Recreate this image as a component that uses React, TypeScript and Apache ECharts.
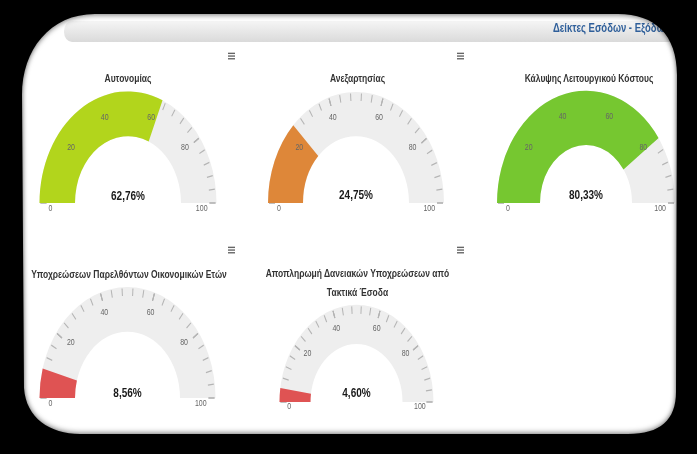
import React, { useEffect, useRef } from "react";
import * as echarts from "echarts";

// ---------- data ----------
const gaugeTitles = [
  "Αυτονομίας",
  "Ανεξαρτησίας",
  "Κάλυψης Λειτουργικού Κόστους",
  "Υποχρεώσεων Παρελθόντων Οικονομικών Ετών",
  "Αποπληρωμή Δανειακών Υποχρεώσεων από\nΤακτικά Έσοδα",
];
const gaugeValues = [62.76, 24.75, 80.33, 8.56, 4.6];
const axisMin = 0;
const axisMax = 100;
const axisSplits = 5; // labels 0,20,...,100
const minorPerSplit = 5; // ticks every 4
const headerTitle = "Δείκτες Εσόδων - Εξόδων";
const colorStops: [number, string][] = [
  [0.1, "#DF5353"],
  [0.5, "#DDDF0D"],
  [0.9, "#55BF3B"],
];

// ---------- layout ----------
const W = 697;
const HPX = 454;
const H = 360;
const SY = HPX / H;
const u = (y: number) => y / SY;
const FONT = "'Liberation Sans', Arial, sans-serif";

const layouts = [
  { cx: 128, by: 203, r: 88.5, w: 35.5, tx: 0, tyS: 78, dyS: 196 },
  { cx: 356, by: 203, r: 88, w: 35, tx: 1.5, tyS: 78, dyS: 195 },
  { cx: 586, by: 203, r: 89, w: 43, tx: 3, tyS: 78, dyS: 195 },
  { cx: 127.5, by: 398, r: 88, w: 35.5, tx: 1.5, tyS: 274, dyS: 393 },
  { cx: 356.5, by: 402, r: 77, w: 31, tx: 1, tyS: 282.5, dyS: 392.5 },
];

function hexToRgb(h: string) {
  const n = parseInt(h.slice(1), 16);
  return [(n >> 16) & 255, (n >> 8) & 255, n & 255];
}
function bandColor(v: number) {
  const t = (v - axisMin) / (axisMax - axisMin);
  if (t <= colorStops[0][0]) return colorStops[0][1];
  for (let i = 1; i < colorStops.length; i++) {
    if (t <= colorStops[i][0]) {
      const [t0, c0] = colorStops[i - 1];
      const [t1, c1] = colorStops[i];
      const f = (t - t0) / (t1 - t0);
      const a = hexToRgb(c0);
      const b = hexToRgb(c1);
      return `rgb(${a.map((x, k) => Math.round(x + (b[k] - x) * f)).join(",")})`;
    }
  }
  return colorStops[colorStops.length - 1][1];
}

// panel outline (screen coords), reversed (counter-clockwise) for the mask hole
function maskPath() {
  const p = (x: number, y: number) => `${x} ${u(y).toFixed(2)}`;
  const outer = `M -20 -20 L ${W + 20} -20 L ${W + 20} ${H + 20} L -20 ${H + 20} Z`;
  const inner =
    `M ${p(95, 14)} C ${p(50, 14)} ${p(22, 50)} ${p(22, 95)} ` +
    `L ${p(24, 388)} C ${p(26, 418)} ${p(50, 434)} ${p(80, 434)} ` +
    `L ${p(628, 434)} C ${p(660, 434)} ${p(676, 420)} ${p(676, 392)} ` +
    `L ${p(677, 75)} C ${p(677, 35)} ${p(655, 14)} ${p(618, 14)} Z`;
  return outer + " " + inner;
}

let registered = false;
function registerShapes() {
  if (registered) return;
  echarts.graphic.registerShape("frame", echarts.graphic.extendPath(maskPath(), {}) as any);
  registered = true;
}

function buildOption() {
  const series: any[] = [];
  gaugeValues.forEach((val, i) => {
    const L = layouts[i];
    const cy = u(L.by);
    const common = {
      type: "gauge",
      center: [L.cx, cy],
      radius: L.r,
      startAngle: 180,
      endAngle: 0,
      min: axisMin,
      max: axisMax,
      splitNumber: axisSplits,
      pointer: { show: false },
      anchor: { show: false },
      animation: false,
    };
    // band + progress + ticks + title + value
    series.push({
      ...common,
      z: 2,
      axisLine: { show: true, lineStyle: { width: L.w, color: [[1, "#eeeeee"]] } },
      progress: {
        show: true,
        width: L.w,
        roundCap: false,
        itemStyle: { color: bandColor(val) },
      },
      axisTick: {
        show: true,
        splitNumber: minorPerSplit,
        distance: -L.w + 1,
        length: 6,
        lineStyle: { color: "#b4b4b4", width: 1 },
      },
      splitLine: {
        show: true,
        distance: -L.w + 1,
        length: 6,
        lineStyle: { color: "#b4b4b4", width: 1 },
      },
      axisLabel: { show: false },
      title: {
        show: true,
        offsetCenter: [L.tx, u(L.tyS) - cy],
        fontSize: 8.5,
        fontWeight: "bold",
        color: "#333333",
        fontFamily: FONT,
        lineHeight: 15,
      },
      detail: {
        show: true,
        offsetCenter: [0, u(L.dyS) - cy],
        fontSize: 10,
        fontWeight: "bold",
        color: "#1a1a1a",
        fontFamily: FONT,
        valueAnimation: false,
        formatter: (v: number) => v.toFixed(2).replace(".", ",") + "%",
      },
      data: [{ value: val, name: gaugeTitles[i] }],
    });
    // inner labels (20..80) drawn above the band
    series.push({
      ...common,
      z: 3,
      axisLine: { show: false, lineStyle: { width: 0 } },
      progress: { show: false },
      axisTick: { show: false },
      splitLine: { show: false, length: 0, distance: 0 },
      axisLabel: {
        show: true,
        distance: L.r * 0.15,
        fontSize: 7,
        color: "#666666",
        fontFamily: FONT,
        formatter: (v: number) => (v === axisMin || v === axisMax ? "" : String(v)),
      },
      title: { show: false },
      detail: { show: false },
      data: [{ value: val }],
    });
    // end labels (0, 100) sitting just below the baseline
    series.push({
      ...common,
      z: 3,
      startAngle: 183,
      endAngle: -3,
      splitNumber: 1,
      axisLine: { show: false, lineStyle: { width: 0 } },
      progress: { show: false },
      axisTick: { show: false },
      splitLine: { show: false, length: 0, distance: 0 },
      axisLabel: {
        show: true,
        distance: L.r * 0.1,
        fontSize: 7,
        color: "#666666",
        fontFamily: FONT,
        formatter: (v: number) => String(v),
      },
      title: { show: false },
      detail: { show: false },
      data: [{ value: val }],
    });
  });

  const icon = (x: number, ySc: number) =>
    [-2.7, 0, 2.7].map((d) => ({
      type: "rect",
      z: 5,
      silent: true,
      shape: { x, y: u(ySc + d) - 0.5, width: 7, height: 1.1 },
      style: { fill: "#666666" },
    }));

  const graphic: any[] = [
    {
      type: "rect",
      z: 1,
      silent: true,
      shape: { x: 64, y: u(21), width: 640, height: u(42) - u(21), r: [8, 0, 0, 8] },
      style: {
        fill: new echarts.graphic.LinearGradient(0, 0, 0, 1, [
          { offset: 0, color: "#f5f5f5" },
          { offset: 1, color: "#dadada" },
        ]),
      },
    },
    {
      type: "text",
      z: 2,
      silent: true,
      x: 553,
      y: u(27.5),
      style: {
        text: headerTitle,
        fontSize: 9.5,
        fontWeight: "bold",
        fontFamily: FONT,
        fill: "#2f5f9a",
        verticalAlign: "middle",
        align: "left",
      },
    },
    ...icon(228, 56),
    ...icon(457, 56),
    ...icon(686, 56),
    ...icon(228, 250),
    ...icon(457, 250),
    {
      type: "frame",
      z: 100,
      silent: true,
      x: 0,
      y: 0,
      style: {
        fill: "#000000",
        shadowBlur: 5,
        shadowColor: "rgba(0,0,0,0.7)",
      },
    },
  ];

  return {
    animation: false,
    backgroundColor: "#ffffff",
    series,
    graphic,
  };
}

export default function App() {
  const ref = useRef<HTMLDivElement>(null);
  useEffect(() => {
    if (!ref.current) return;
    registerShapes();
    const chart = echarts.init(ref.current, undefined, { renderer: "svg" });
    chart.setOption(buildOption() as any);
    return () => chart.dispose();
  }, []);
  return (
    <div
      style={{
        position: "fixed",
        left: 0,
        top: 0,
        width: W,
        height: HPX,
        background: "#000",
        overflow: "hidden",
      }}
    >
      <div
        ref={ref}
        style={{
          position: "absolute",
          left: 0,
          top: 0,
          width: W,
          height: H,
          transform: `scaleY(${SY})`,
          transformOrigin: "0 0",
        }}
      />
    </div>
  );
}
